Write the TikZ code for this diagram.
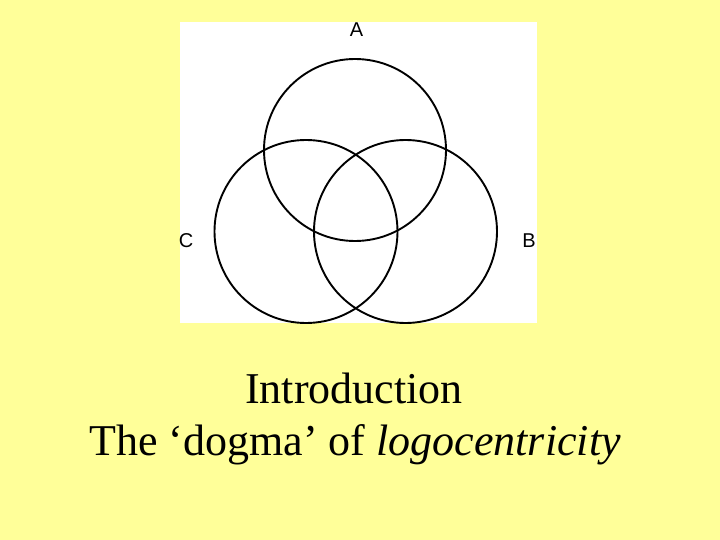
\documentclass[tikz,border=0pt]{standalone}
\usepackage{fontspec}
\setmainfont{Liberation Serif}
\newfontfamily\labelfont{Liberation Sans}
\definecolor{bgyellow}{HTML}{FFFF99}
\begin{document}
\begin{tikzpicture}[x=1pt,y=-1pt,
  venn/.style={draw=black,line width=1.9pt},
  setlabel/.style={font=\labelfont\fontsize{20}{20}\selectfont,inner sep=0pt},
  title/.style={font=\fontsize{44}{52}\selectfont,inner sep=0pt,anchor=base}]
\fill[bgyellow] (0,0) rectangle (720,540);
\useasboundingbox (0,0) rectangle (720,540);
\fill[white] (180,22) rectangle (537,323);
\draw[venn] (355,150) circle (91);
\draw[venn] (306,231.5) circle (91.5);
\draw[venn] (405.5,231.5) circle (91.5);
\node[setlabel] (la) at (356.5,29.5) {A};
\node[setlabel] (lc) at (186,240.5) {C};
\node[setlabel] (lb) at (529,240.5) {B};
\node[title] (t1) at (354,403) {Introduction};
\node[title] (t2) at (355,455) {The ‘dogma’ of \textit{logocentricity}};
\end{tikzpicture}
\end{document}
